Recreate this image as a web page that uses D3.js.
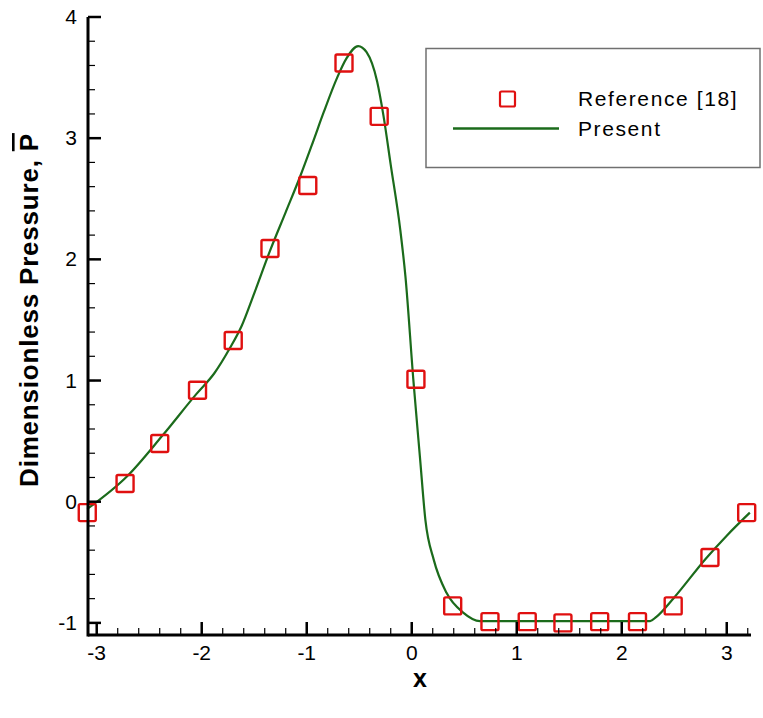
<!DOCTYPE html>
<html>
<head>
<meta charset="utf-8">
<script src="https://cdn.jsdelivr.net/npm/d3@7"></script>
<style>
body { margin: 0; background: #fff; }
text { font-family: Arial, "Liberation Sans", sans-serif; }
</style>
</head>
<body>
<svg id="chart" width="763" height="718"></svg>
<script>
// reference data (squares)
var refX = [-3.09, -2.73, -2.40, -2.04, -1.70, -1.35, -0.99, -0.645, -0.31, 0.04,
            0.39, 0.745, 1.10, 1.44, 1.79, 2.15, 2.49, 2.84, 3.19]
var refY = [-0.09, 0.15, 0.48, 0.92, 1.33, 2.09, 2.61, 3.62, 3.18, 1.01,
            -0.86, -0.99, -0.99, -1.00, -0.99, -0.99, -0.86, -0.46, -0.09]
// present solution (line)
var presX = [-3.09, -2.71, -2.37, -2.05, -1.88, -1.73, -1.62, -1.50, -1.35, -1.20, -1.06,
             -0.94, -0.84, -0.71, -0.62, -0.51, -0.43, -0.33, -0.27, -0.2, -0.11, -0.06,
             0.015, 0.08, 0.13, 0.21, 0.33, 0.49, 0.65, 2.27, 2.33, 2.5, 2.8, 3.0, 3.22]
var presY = [-0.06, 0.21, 0.55, 0.89, 1.06, 1.27, 1.45, 1.72, 2.07, 2.39, 2.69,
             2.97, 3.21, 3.50, 3.66, 3.76, 3.71, 3.47, 3.19, 2.78, 2.25, 1.86,
             1.01, 0.35, -0.15, -0.48, -0.75, -0.915, -0.985, -0.985, -0.95, -0.79, -0.47, -0.28, -0.09]
var xTicks = [-3, -2, -1, 0, 1, 2, 3]
var yTicks = [-1, 0, 1, 2, 3, 4]
var legendLabels = ['Reference [18]', 'Present']

var red = '#e01010'
var green = '#1b6b1b'

var svg = d3.select('#chart')
var x = d3.scaleLinear().domain([-3.083, 3.231]).range([88, 751])
var y = d3.scaleLinear().domain([-1.1, 4]).range([635, 17])

// minor ticks every 0.2
var xMinor = d3.range(-30, 33, 2).map(function(d) { return d / 10 })
    .filter(function(d) { return d >= -3.08 && d <= 3.23 })
var yMinor = d3.range(-10, 41, 2).map(function(d) { return d / 10 })

var g = svg.append('g')

// curve
var line = d3.line()
    .x(function(d) { return x(d[0]) })
    .y(function(d) { return y(d[1]) })
    .curve(d3.curveMonotoneX)
var presData = presX.map(function(d, i) { return [d, presY[i]] })
g.append('path')
    .datum(presData)
    .attr('d', line)
    .attr('fill', 'none')
    .attr('stroke', green)
    .attr('stroke-width', 2.2)

// squares
var ms = 17
g.selectAll('.ref')
    .data(refX.map(function(d, i) { return [d, refY[i]] }))
    .enter()
    .append('rect')
    .attr('class', 'ref')
    .attr('x', function(d) { return x(d[0]) - ms / 2 })
    .attr('y', function(d) { return y(d[1]) - ms / 2 })
    .attr('width', ms)
    .attr('height', ms)
    .attr('rx', 1.5)
    .attr('fill', 'none')
    .attr('stroke', red)
    .attr('stroke-width', 2.4)

// axes lines
g.append('line').attr('x1', x.range()[0]).attr('x2', x.range()[1])
    .attr('y1', y(-1.1)).attr('y2', y(-1.1))
    .attr('stroke', '#000').attr('stroke-width', 3)
g.append('line').attr('x1', 88).attr('x2', 88)
    .attr('y1', y(-1.1) + 1.5).attr('y2', y(4))
    .attr('stroke', '#000').attr('stroke-width', 3)

// x ticks (inward)
g.selectAll('.xminor').data(xMinor).enter().append('line')
    .attr('x1', function(d) { return x(d) }).attr('x2', function(d) { return x(d) })
    .attr('y1', y(-1.1)).attr('y2', y(-1.1) - 7)
    .attr('stroke', '#000').attr('stroke-width', 1.2)
g.selectAll('.xmajor').data(xTicks).enter().append('line')
    .attr('x1', function(d) { return x(d) }).attr('x2', function(d) { return x(d) })
    .attr('y1', y(-1.1)).attr('y2', y(-1.1) - 13)
    .attr('stroke', '#000').attr('stroke-width', 2.5)
g.selectAll('.xlab').data(xTicks).enter().append('text')
    .attr('x', function(d) { return x(d) })
    .attr('y', 660)
    .attr('text-anchor', 'middle')
    .attr('font-size', 21)
    .text(function(d) { return d })

// y ticks (inward)
g.selectAll('.yminor').data(yMinor).enter().append('line')
    .attr('x1', 88).attr('x2', 88 + 7)
    .attr('y1', function(d) { return y(d) }).attr('y2', function(d) { return y(d) })
    .attr('stroke', '#000').attr('stroke-width', 1.2)
g.selectAll('.ymajor').data(yTicks).enter().append('line')
    .attr('x1', 88).attr('x2', 88 + 13)
    .attr('y1', function(d) { return y(d) }).attr('y2', function(d) { return y(d) })
    .attr('stroke', '#000').attr('stroke-width', 2.5)
g.selectAll('.ylab').data(yTicks).enter().append('text')
    .attr('x', 77)
    .attr('y', function(d) { return y(d) + 7 })
    .attr('text-anchor', 'end')
    .attr('font-size', 21)
    .text(function(d) { return d })

// axis titles
svg.append('text')
    .attr('x', 420).attr('y', 687)
    .attr('text-anchor', 'middle')
    .attr('font-size', 25)
    .attr('font-weight', 'bold')
    .text('x')

var yt = svg.append('text')
    .attr('transform', 'translate(38,310) rotate(-90)')
    .attr('text-anchor', 'middle')
    .attr('font-size', 26)
    .attr('font-weight', 'bold')
    .attr('letter-spacing', 0.8)
yt.append('tspan').text('Dimensionless Pressure, ')
yt.append('tspan').attr('text-decoration', 'overline').style('text-decoration', 'overline').text('P')

// legend
svg.append('rect')
    .attr('x', 426).attr('y', 48.5)
    .attr('width', 334).attr('height', 119)
    .attr('fill', 'none')
    .attr('stroke', '#707070')
    .attr('stroke-width', 1.5)
var lms = 15
svg.append('rect')
    .attr('x', 507.5 - lms / 2).attr('y', 99 - lms / 2)
    .attr('width', lms).attr('height', lms)
    .attr('rx', 1.5)
    .attr('fill', 'none')
    .attr('stroke', red)
    .attr('stroke-width', 2.2)
svg.append('line')
    .attr('x1', 453).attr('x2', 559)
    .attr('y1', 128.5).attr('y2', 128.5)
    .attr('stroke', green).attr('stroke-width', 2.5)
svg.selectAll('.leg').data(legendLabels).enter().append('text')
    .attr('x', 578)
    .attr('y', function(d, i) { return 106 + i * 30 })
    .attr('font-size', 21)
    .attr('letter-spacing', 1.6)
    .text(function(d) { return d })
</script>
</body>
</html>
